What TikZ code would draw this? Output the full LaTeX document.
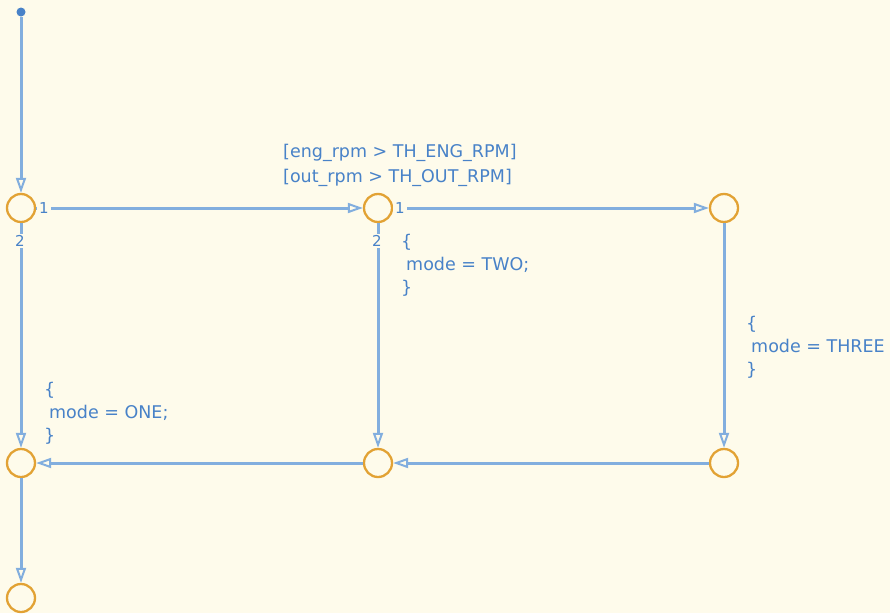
\documentclass[tikz,border=0pt]{standalone}
\usepackage{fontspec}
\setmainfont{DejaVu Sans}
\usetikzlibrary{arrows.meta}
\definecolor{chartbg}{RGB}{254,251,235}
\definecolor{juncorange}{RGB}{226,162,52}
\definecolor{transblue}{RGB}{130,174,222}
\definecolor{labelblue}{RGB}{72,130,200}

\begin{document}
\begin{tikzpicture}[x=1pt,y=-1pt,
  junc/.style={draw=juncorange, line width=2.3pt, circle, minimum size=28pt, inner sep=0pt},
  trans/.style={draw=transblue, line width=3pt, -{Triangle[open, length=15pt, width=10pt, line width=2pt]}},
  lbl/.style={text=labelblue, font=\fontsize{17.5}{23}\selectfont, align=left, inner sep=0pt},
  num/.style={text=labelblue, font=\fontsize{15}{15}\selectfont, fill=chartbg, inner xsep=2pt, inner ysep=1pt}]
\fill[chartbg] (0,0) rectangle (890,613);
\useasboundingbox (0,0) rectangle (890,613);

% Default transition and junctions
\node[circle, fill=labelblue, minimum size=9pt, inner sep=0pt] (start) at (21,12) {};
\node[junc] (j1) at (21,208) {};
\node[junc] (j2) at (378,208) {};
\node[junc] (j3) at (724,208) {};
\node[junc] (j4) at (21,463) {};
\node[junc] (j5) at (378,463) {};
\node[junc] (j6) at (724,463) {};
\node[junc] (j7) at (21,598) {};

% Transitions
\draw[trans] (start) -- (j1);
\draw[trans] (j1) -- (j2);
\draw[trans] (j2) -- (j3);
\draw[trans] (j3) -- (j6);
\draw[trans] (j2) -- (j5);
\draw[trans] (j6) -- (j5);
\draw[trans] (j5) -- (j4);
\draw[trans] (j1) -- (j4);
\draw[trans] (j4) -- (j7);

% Execution order numbers
\node[num] (n1a) at (44,208) {1};
\node[num] (n2a) at (20,241) {2};
\node[num] (n1b) at (400,208) {1};
\node[num] (n2b) at (377,241) {2};

% Conditions and actions
\node[lbl, anchor=north west] (guard) at (283,144) {[eng\_rpm > TH\_ENG\_RPM]\\[2pt][out\_rpm > TH\_OUT\_RPM]};
\node[lbl, anchor=north west] (acttwo) at (401,234) {\{\\\hspace*{5pt}mode = TWO;\\\}};
\node[lbl, anchor=north west] (actthree) at (746,316) {\{\\\hspace*{5pt}mode = THREE\\\}};
\node[lbl, anchor=north west] (actone) at (44,382) {\{\\\hspace*{5pt}mode = ONE;\\\}};
\end{tikzpicture}
\end{document}
